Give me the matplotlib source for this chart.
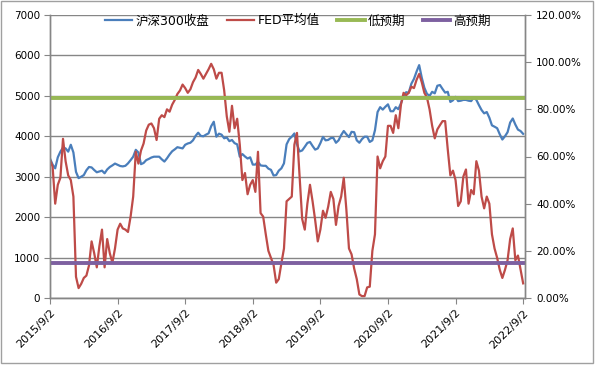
import numpy as np
import pandas as pd
import matplotlib
matplotlib.use('Agg')
import matplotlib.pyplot as plt
import matplotlib.dates as mdates
from matplotlib.ticker import FuncFormatter

plt.rcParams['font.family'] = ['DejaVu Sans', 'Noto Sans CJK SC']

# sampled every ~14 days, 2015/9/2 .. 2022/9/2
dates = pd.date_range('2015-09-02', '2022-09-02', periods=183)

hs300 = [
    3450, 3300, 3207, 3480, 3620, 3720, 3700, 3620, 3790, 3600,
    3120, 2965, 3000, 3040, 3160, 3240, 3230, 3166, 3110, 3130,
    3150, 3085, 3180, 3240, 3280, 3325, 3295, 3265, 3255, 3270,
    3330,
    3410, 3495, 3665, 3600, 3310, 3340, 3410, 3440, 3475, 3495,
    3495, 3495, 3430, 3375, 3455, 3550, 3630, 3677, 3730, 3715,
    3700, 3790, 3822, 3840, 3900, 4010, 4089, 4010, 4000, 4040,
    4073,
    4250, 4360, 3990, 4065, 4040, 3950, 3970, 3880, 3908, 3830,
    3800, 3495, 3560, 3500, 3450, 3480, 3300, 3300, 3370, 3280,
    3270, 3270, 3200, 3170, 3030, 3040, 3150, 3207, 3330, 3800,
    3930, 3990, 4070, 3800, 3625, 3650, 3740, 3835, 3860, 3760,
    3670, 3700, 3830, 3985, 3900, 3910, 3955, 3960, 3840, 3900,
    4030, 4130, 4050, 3980, 4110, 4100, 3900, 3840, 3930, 3990,
    3990,
    3860, 3900, 4150, 4600, 4720, 4660, 4730, 4790, 4620, 4620,
    4720, 4670, 4815, 5000, 5090, 5080, 5300, 5420, 5600, 5760,
    5450, 5200, 5050, 5000, 5100, 5062, 5250, 5268, 5170, 5080,
    5100,
    4850, 4890, 4975, 4870, 4880, 4900, 4900, 4880, 4870, 4960,
    4900, 4770, 4650, 4567, 4600, 4460, 4270, 4237, 4200, 4050,
    3920, 4000, 4100, 4340, 4440, 4290, 4165, 4130, 4060,
]

fed = [
    58.5, 55.7, 40, 48, 51, 67.5, 58, 52, 50, 43,
    9, 4.2, 6, 8.5, 9.5, 13.8, 24, 19, 13, 22,
    29, 13, 25, 19, 15, 21, 29, 31.5, 29.5, 29,
    28,
    34.5, 43, 62, 57, 62.5, 65.5, 71, 73.5, 74, 72,
    67, 76, 77.5, 76.7, 80, 79, 82, 84, 86.5, 88,
    90.5, 89, 87, 88.5, 91.5, 93.5, 96.7, 95, 93, 95,
    97,
    99.3, 97, 93, 95.5, 95.5, 88, 77, 70.5, 81.5, 72,
    76, 65, 50, 53, 44, 48, 50, 45, 62, 36,
    34.5, 27, 20, 17, 14, 6.5, 8, 14.7, 21, 41,
    42, 43, 65, 70, 52, 33.5, 29, 40, 48, 41,
    33, 24, 29, 37, 34, 38.7, 45, 42, 31, 39,
    43, 51, 37.5, 21, 18.5, 12.5, 8, 1.5, 0.8, 0.8,
    4.5,
    4.8, 20, 27, 60, 55, 58, 60, 73, 73, 70,
    77.5, 72, 82, 87, 86, 87, 89.6, 89, 92.5, 95,
    91.5, 87, 85, 80, 73, 67.7, 71.5, 73.3, 75, 75,
    63,
    52, 54, 50, 39, 41, 51.5, 54.5, 40, 45.8, 44,
    58, 54, 43, 38, 43, 40, 27, 21, 17, 12,
    8.5, 11.9, 16, 25, 29.5, 16, 18, 12, 6.2,
]
fed = np.array(fed) / 100

low_exp = 0.85
high_exp = 0.15

tick_dates = pd.date_range('2015-09-02', '2022-09-02', freq=pd.DateOffset(years=1))

blue = '#4A7EBB'
red = '#BE4B48'
green = '#98B954'
purple = '#7D60A0'
gray = '#868686'

fig = plt.figure(figsize=(6, 3.66), dpi=100)
ax = fig.add_axes([50/600, 68/366, 475/600, 283/366])
ax2 = ax.twinx()

l1, = ax.plot(dates, hs300, color=blue, lw=1.6, label='沪深300收盘')
l2, = ax2.plot(dates, fed, color=red, lw=1.6, label='FED平均值')
l3 = ax2.axhline(low_exp, color=green, lw=2.8, label='低预期')
l4 = ax2.axhline(high_exp, color=purple, lw=2.8, label='高预期')

ax.set_ylim(0, 7000)
ax.set_yticks(range(0, 7001, 1000))
ax2.set_ylim(0, 1.2)
ax2.set_yticks(np.arange(0, 1.21, 0.2))
ax2.yaxis.set_major_formatter(FuncFormatter(lambda v, p: f'{v*100:.2f}%'))

ax.set_xlim(pd.Timestamp('2015-09-02'), pd.Timestamp('2022-09-12'))
ax.set_xticks(tick_dates)
ax.set_xticklabels([f'{d.year}/{d.month}/{d.day}' for d in tick_dates],
                   rotation=45, ha='right', rotation_mode='anchor', fontsize=8)

ax.grid(axis='y', color=gray, lw=1)
ax.set_axisbelow(True)
for a in (ax, ax2):
    a.spines['top'].set_visible(False)
    for s in ('left', 'right', 'bottom'):
        a.spines[s].set_color(gray)
        a.spines[s].set_linewidth(1)
ax.tick_params(axis='both', colors=gray, length=4, labelcolor='black', labelsize=7.5, pad=3)
ax.tick_params(axis='x', labelsize=8, pad=3)
ax2.tick_params(axis='y', colors=gray, length=4, labelcolor='black', labelsize=7.5, pad=4)

ax2.legend(handles=[l1, l2, l3, l4], loc='center', bbox_to_anchor=(0.522, 0.979),
           ncol=4, frameon=False, fontsize=9, handlelength=2.2,
           handletextpad=0.25, columnspacing=1.4, borderaxespad=0)

# outer chart frame
fig.patches.append(plt.Rectangle((1/600, 3/366), 592/600, 362/366, transform=fig.transFigure,
                                 fill=False, edgecolor='#A0A0A0', lw=1))

fig.savefig('out.png', dpi=100)
